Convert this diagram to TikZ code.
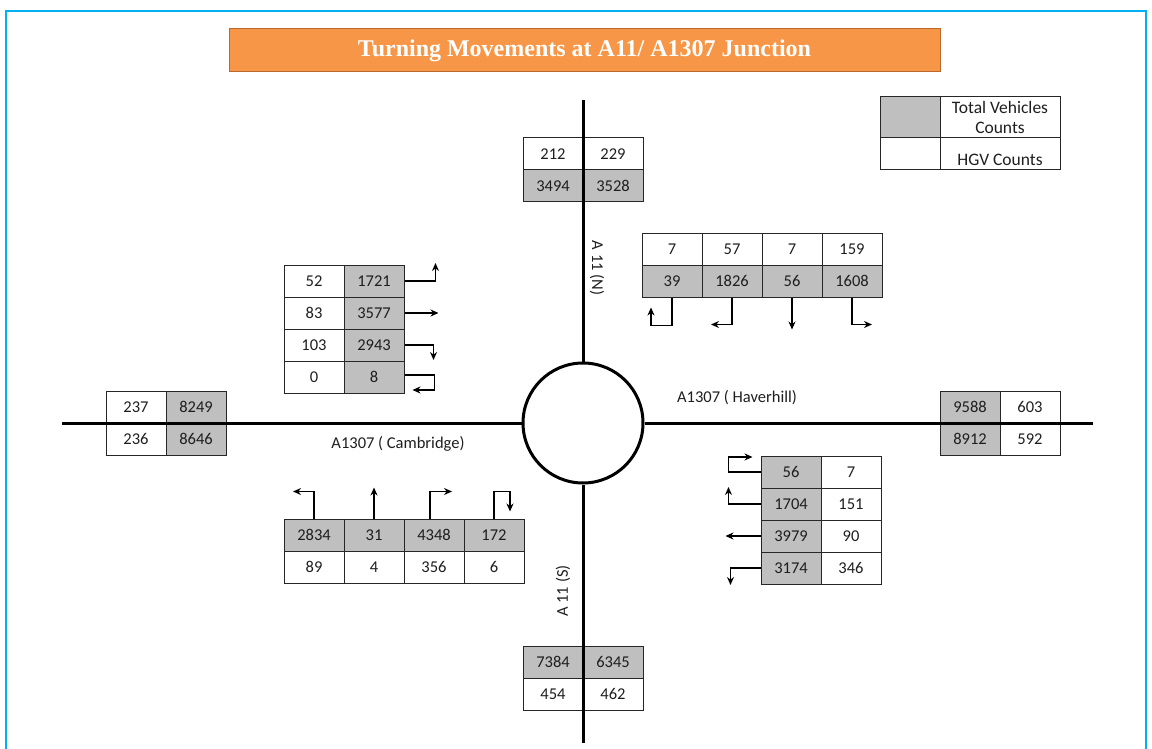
\documentclass[tikz,border=0pt]{standalone}
\usepackage{fontspec}
\setmainfont{Carlito}
\newfontfamily\titlefont{Liberation Serif}
\usepackage{tikz}
\usetikzlibrary{arrows.meta}
\usepackage{xcolor}
\definecolor{frameblue}{RGB}{0,176,240}
\definecolor{titleorange}{RGB}{247,150,70}
\definecolor{titleedge}{RGB}{185,105,45}
\definecolor{cellgray}{RGB}{191,191,191}
\definecolor{numtext}{RGB}{30,30,30}

\begin{document}
\begin{tikzpicture}[x=1pt, y=-1pt, >={Stealth[length=8pt,width=7pt]},
        cell/.style={draw=black!85, line width=1pt, minimum width=60pt, minimum height=32pt,
            inner sep=0pt, text=numtext, font=\fontsize{16.5}{18}\selectfont},
        tot/.style={cell, fill=cellgray},
        road/.style={line width=3pt},
        turn/.style={->, line width=1.4pt},
        roadlabel/.style={font=\fontsize{16.5}{18}\selectfont, text=numtext}]
    \useasboundingbox (0,0) rectangle (1152,749);
    % --- page frame and title bar ---
    \draw[frameblue, line width=2.5pt] (6,749) -- (6,11) -- (1146,11) -- (1146,749);
    \node[draw=titleedge, fill=titleorange, line width=1pt, minimum width=711pt, minimum height=43pt,
        text=white, font=\titlefont\bfseries\fontsize{24}{27}\selectfont] (title) at (584.5,50.5)
        {Turning Movements at A11/ A1307 Junction};
    % --- legend ---
    \node[tot, minimum height=41pt] (lgTot) at (910,117.5) {};
    \node[cell, minimum width=120pt, minimum height=41pt] (lgTotBox) at (1000,117.5) {};
    \node[roadlabel, align=center, font=\fontsize{17.5}{20}\selectfont] (lgTotTxt) at (1000,117)
        {Total Vehicles\\Counts};
    \node[cell] (lgHgv) at (910,154) {};
    \node[cell, minimum width=120pt] (lgHgvBox) at (1000,154) {};
    \node[roadlabel, font=\fontsize{17.5}{21}\selectfont] (lgHgvTxt) at (1000,160) {HGV Counts};
    % --- roundabout ---
    \node[circle, draw, line width=3pt, minimum size=120pt, fill=white] (rb) at (583,423) {};
    % --- A11 (N) arm: HGV over total ---
    \node[cell] (n1) at (553,154) {212};
    \node[cell] (n2) at (613,154) {229};
    \node[tot] (n3) at (553,186) {3494};
    \node[tot] (n4) at (613,186) {3528};
    % --- A11 (S) arm ---
    \node[tot] (s1) at (553,662) {7384};
    \node[tot] (s2) at (613,662) {6345};
    \node[cell] (s3) at (553,694) {454};
    \node[cell] (s4) at (613,694) {462};
    % --- A1307 (Cambridge) arm ---
    \node[cell] (w1) at (136,407) {237};
    \node[tot] (w2) at (196,407) {8249};
    \node[cell] (w3) at (136,439) {236};
    \node[tot] (w4) at (196,439) {8646};
    % --- A1307 (Haverhill) arm ---
    \node[tot] (e1) at (970,407) {9588};
    \node[cell] (e2) at (1030,407) {603};
    \node[tot] (e3) at (970,439) {8912};
    \node[cell] (e4) at (1030,439) {592};
    % --- turns from A11 (N) ---
    \node[cell] (ne1) at (672,249) {7};
    \node[cell] (ne2) at (732,249) {57};
    \node[cell] (ne3) at (792,249) {7};
    \node[cell] (ne4) at (852,249) {159};
    \node[tot] (ne5) at (672,281) {39};
    \node[tot] (ne6) at (732,281) {1826};
    \node[tot] (ne7) at (792,281) {56};
    \node[tot] (ne8) at (852,281) {1608};
    \draw[turn] (ne5.south) |- ++(-21,28) -- ++(0,-18);
    \draw[turn] (ne6.south) |- ++(-21,27);
    \draw[turn] (ne7.south) -- ++(0,32);
    \draw[turn] (ne8.south) |- ++(20,27);
    % --- turns from A1307 (Cambridge) ---
    \node[cell] (nw1) at (314,281) {52};
    \node[tot] (nw2) at (374,281) {1721};
    \node[cell] (nw3) at (314,313) {83};
    \node[tot] (nw4) at (374,313) {3577};
    \node[cell] (nw5) at (314,345) {103};
    \node[tot] (nw6) at (374,345) {2943};
    \node[cell] (nw7) at (314,377) {0};
    \node[tot] (nw8) at (374,377) {8};
    \draw[turn] (nw2.east) -| ++(31,-18);
    \draw[turn] (nw4.east) -- ++(34,0);
    \draw[turn] (nw6.east) -| ++(29,15);
    \draw[turn] ([yshift=2pt]nw8.east) -| ++(30,15) -- ++(-22,0);
    % --- turns from A1307 (Haverhill) ---
    \node[tot] (se1) at (791,472) {56};
    \node[cell] (se2) at (851,472) {7};
    \node[tot] (se3) at (791,504) {1704};
    \node[cell] (se4) at (851,504) {151};
    \node[tot] (se5) at (791,536) {3979};
    \node[cell] (se6) at (851,536) {90};
    \node[tot] (se7) at (791,568) {3174};
    \node[cell] (se8) at (851,568) {346};
    \draw[turn] (se1.west) -| ++(-32,-15) -- ++(24,0);
    \draw[turn] (se3.west) -| ++(-32,-17);
    \draw[turn] (se5.west) -- ++(-35,0);
    \draw[turn] (se7.west) -| ++(-30,17);
    % --- turns from A11 (S) ---
    \node[tot] (sw1) at (314,535) {2834};
    \node[tot] (sw2) at (374,535) {31};
    \node[tot] (sw3) at (434,535) {4348};
    \node[tot] (sw4) at (494,535) {172};
    \node[cell] (sw5) at (314,567) {89};
    \node[cell] (sw6) at (374,567) {4};
    \node[cell] (sw7) at (434,567) {356};
    \node[cell] (sw8) at (494,567) {6};
    \draw[turn] (sw1.north) |- ++(-21,-27);
    \draw[turn] (sw2.north) -- ++(0,-31);
    \draw[turn] ([xshift=-4pt]sw3.north) |- ++(22,-27);
    \draw[turn] (sw4.north) |- ++(16,-27) -- ++(0,20);
    % --- road centre lines into the roundabout ---
    \coordinate (nEnd) at (583,100);
    \coordinate (sEnd) at (583,743);
    \coordinate (wEnd) at (62,423);
    \coordinate (eEnd) at (1093,423);
    \draw[road] (nEnd) -- (rb.north);
    \draw[road] (sEnd) -- (rb.south);
    \draw[road] (wEnd) -- (rb.west);
    \draw[road] (eEnd) -- (rb.east);
    % --- road names ---
    \node[roadlabel, rotate=-90] (lblN) at (597,268) {A 11 (N)};
    \node[roadlabel, rotate=90] (lblS) at (563,591) {A 11 (S)};
    \node[roadlabel] (lblE) at (737,398) {A1307 ( Haverhill)};
    \node[roadlabel] (lblW) at (398,444) {A1307 ( Cambridge)};
\end{tikzpicture}
\end{document}
